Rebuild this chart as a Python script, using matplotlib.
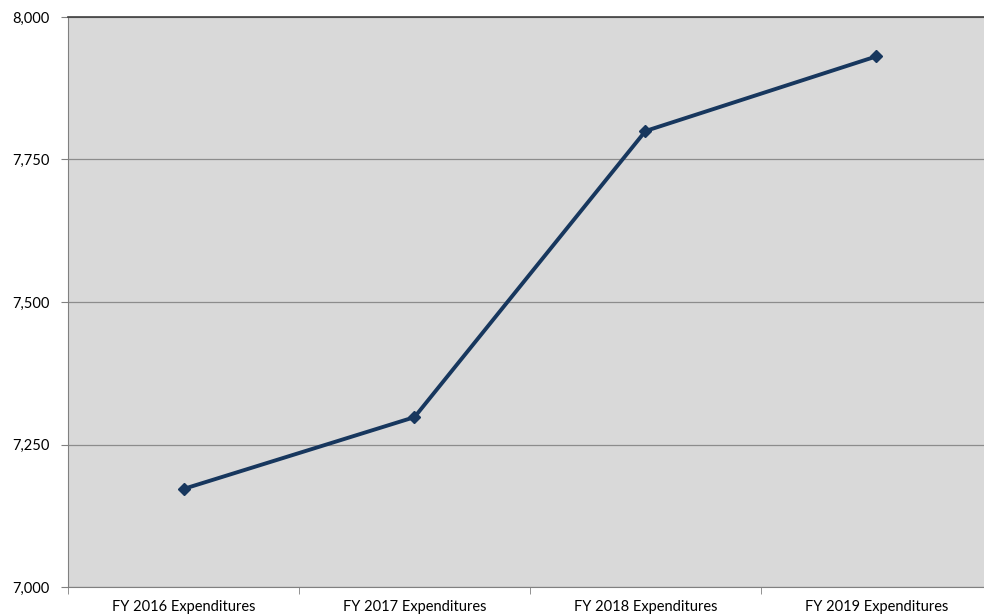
import matplotlib.pyplot as plt
from matplotlib.ticker import FuncFormatter
import numpy as np

categories = ['FY 2016 Expenditures', 'FY 2017 Expenditures', 'FY 2018 Expenditures', 'FY 2019 Expenditures']
values = [7172, 7298, 7800, 7931]

plt.rcParams['font.family'] = ['Lato', 'DejaVu Sans']

fig = plt.figure(figsize=(9.84, 6.15), dpi=100)
ax = fig.add_axes([68/984, 28/615, 924/984, 570/615])
ax.set_facecolor('#D9D9D9')

x = np.arange(len(categories)) + 0.5
ax.plot(x, values, color='#17375E', lw=2.8, marker='D', ms=6.5, zorder=3)

ax.set_xlim(0, len(categories))
ax.set_ylim(7000, 8000)
ax.set_yticks([7000, 7250, 7500, 7750, 8000])
ax.yaxis.set_major_formatter(FuncFormatter(lambda v, p: f'{int(v):,}'))
ax.grid(axis='y', color='#8C8C8C', lw=0.9)
ax.set_axisbelow(True)

ax.set_xticks(x)
ax.set_xticklabels(categories)
ax.set_xticks(np.arange(len(categories) + 1), minor=True)
ax.tick_params(axis='x', which='major', length=0, pad=9, labelsize=10.5)
ax.tick_params(axis='x', which='minor', length=5, color='#808080')
ax.tick_params(axis='y', length=5, color='#808080', pad=8, labelsize=10.5)

ax.spines['top'].set_color('#404040')
ax.spines['top'].set_linewidth(1.2)
ax.spines['left'].set_color('#808080')
ax.spines['bottom'].set_color('#808080')
ax.spines['right'].set_visible(False)

fig.savefig('out.png', dpi=100)
